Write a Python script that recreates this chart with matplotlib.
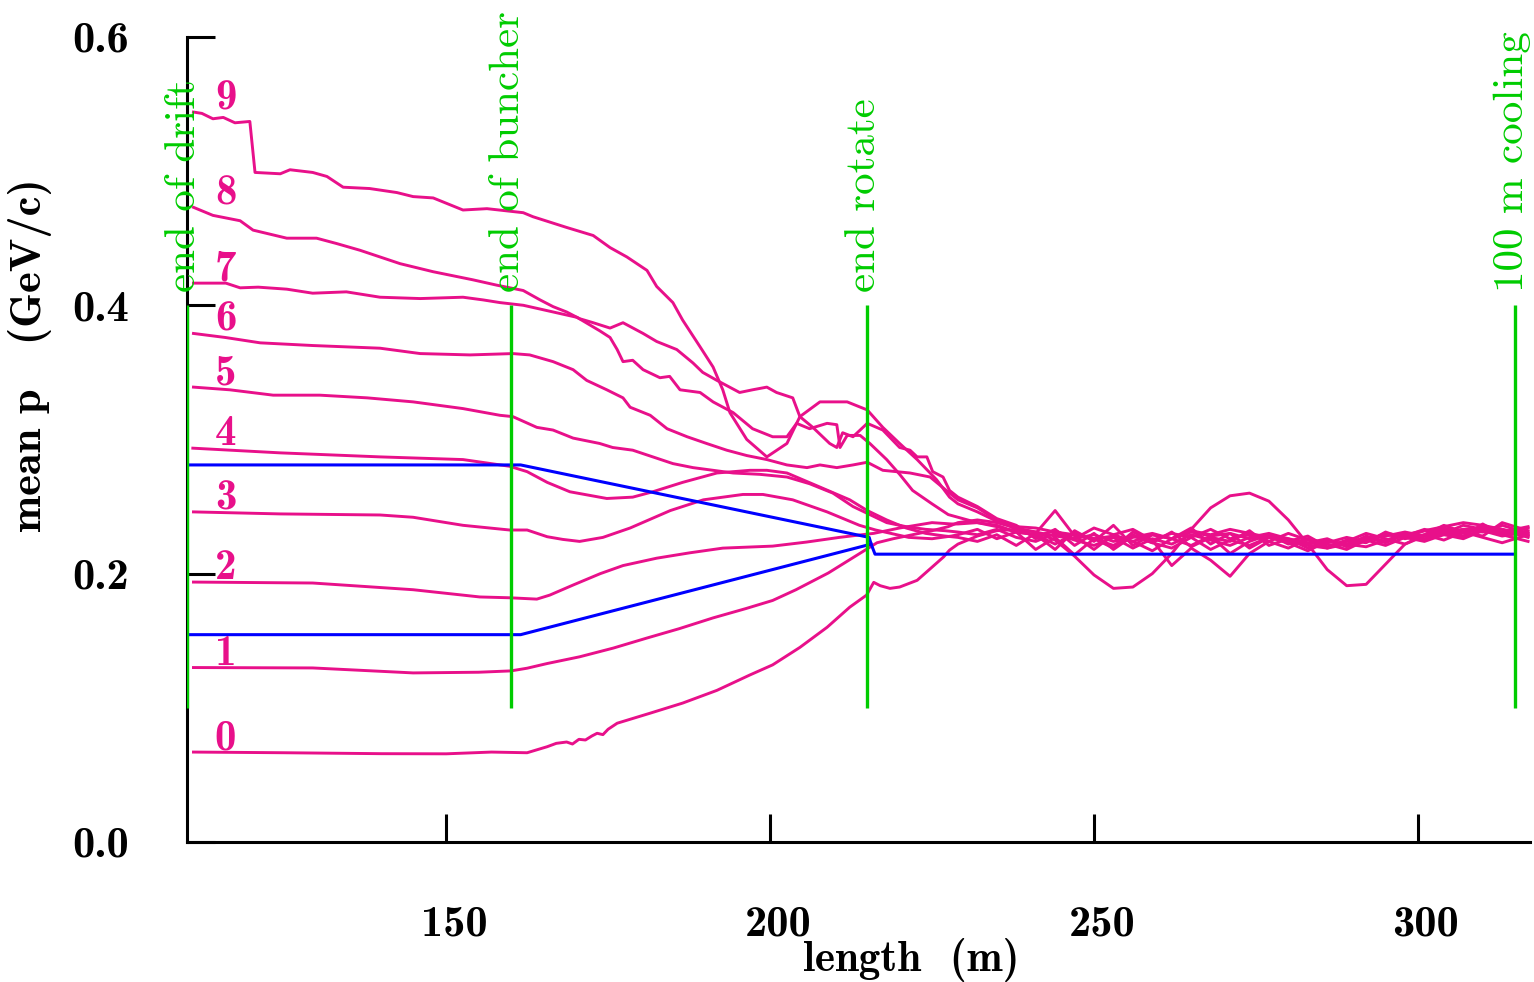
import matplotlib
matplotlib.use("Agg")
import matplotlib.pyplot as plt
import matplotlib.transforms as mtransforms

PINK = '#e8108a'
GREEN = '#00cc00'
BLUE = '#0000ff'

# mean momentum along the channel, one track per reference band (0..9)
len0 = [111, 125, 140, 150, 157, 162.5, 165.6, 167, 168.6, 169.5, 170.5, 171.5, 172.5, 173.3, 174.2, 175, 176.4,
        181.5, 186.5, 191.8, 196.9, 200.4, 204.6, 208.8, 212.3, 214.9, 216, 217, 218.5, 220, 222.7, 226.8, 227.7]
p0 = [0.067, 0.0665, 0.0658, 0.0657, 0.067, 0.0665, 0.071, 0.0735, 0.0745, 0.073, 0.0765, 0.076, 0.079, 0.081, 0.080,
      0.084, 0.0885, 0.096, 0.1035, 0.113, 0.1245, 0.132, 0.145, 0.160, 0.175, 0.184, 0.1935, 0.191, 0.189, 0.190,
      0.195, 0.2125, 0.2175]

len1 = [111, 129.4, 144.9, 155, 160, 162.5, 165.6, 170.6, 175.8, 181, 186, 191.2, 196.3, 200.4, 204, 209, 214,
        216.5, 219, 222, 225, 227.5]
p1 = [0.130, 0.1297, 0.126, 0.1265, 0.1275, 0.1295, 0.133, 0.138, 0.1445, 0.152, 0.159, 0.167, 0.174, 0.180, 0.188,
      0.2005, 0.2155, 0.223, 0.226, 0.229, 0.232, 0.235]

len2 = [111, 129.4, 144.9, 155.2, 159.8, 164, 166, 169.6, 173.8, 177.3, 182.5, 187.6, 192.7, 200.4, 205.6, 210.7,
        213.3, 216, 220, 225, 228]
p2 = [0.1937, 0.193, 0.188, 0.1826, 0.182, 0.181, 0.184, 0.1915, 0.200, 0.206, 0.2115, 0.2155, 0.219, 0.2205,
      0.2235, 0.227, 0.2285, 0.230, 0.234, 0.238, 0.237]

len3 = [111, 124.4, 139.8, 144.9, 152.6, 159.8, 162.5, 165.6, 168, 170.6, 174.2, 178.4, 184.6, 189.7, 195.8, 198.9,
        203.5, 208.8, 213.8, 216.3, 221.4, 225, 228]
p3 = [0.246, 0.2445, 0.2437, 0.242, 0.236, 0.2325, 0.2325, 0.2275, 0.2255, 0.224, 0.227, 0.234, 0.247, 0.255, 0.259,
      0.259, 0.255, 0.246, 0.236, 0.2325, 0.227, 0.226, 0.228]

len4 = [110.9, 124.4, 139.8, 152.6, 159.8, 162.5, 165.6, 169.1, 174.8, 178.8, 181.9, 186.5, 191.8, 196.9, 199.5,
        202.6, 207.7, 212.3, 215, 218, 221, 224, 227]
p4 = [0.2935, 0.290, 0.287, 0.285, 0.280, 0.276, 0.268, 0.261, 0.256, 0.257, 0.261, 0.268, 0.275, 0.277, 0.277,
      0.275, 0.2645, 0.255, 0.247, 0.240, 0.234, 0.230, 0.228]

len5 = [111, 116.6, 123.3, 130.5, 137.8, 144.9, 152.6, 158.3, 160.3, 164, 166.5, 169.6, 173.7, 175.7, 178.8, 181.9,
        185, 188.1, 191.2, 194.3, 198.4, 202.6, 206.1, 209.7, 212.8, 215.4, 218, 221, 224, 227]
p5 = [0.339, 0.337, 0.333, 0.333, 0.331, 0.328, 0.323, 0.318, 0.317, 0.309, 0.307, 0.301, 0.297, 0.294, 0.292,
      0.287, 0.282, 0.279, 0.277, 0.275, 0.274, 0.272, 0.267, 0.260, 0.250, 0.244, 0.238, 0.235, 0.233, 0.232]

len6 = [111, 115.9, 121.3, 129.4, 139.8, 146, 153.7, 160.3, 162.9, 166.5, 169.6, 171.7, 174.8, 177.3, 178.4, 181.5,
        184.1, 187.2, 190.2, 193.3, 196.4, 199.5, 202.6, 205.7, 207.7, 210.3, 212.8, 215, 217.4, 221.6, 224.7, 227.7]
p6 = [0.379, 0.376, 0.372, 0.370, 0.368, 0.364, 0.363, 0.364, 0.363, 0.358, 0.352, 0.344, 0.337, 0.331, 0.324,
      0.318, 0.308, 0.302, 0.297, 0.292, 0.288, 0.285, 0.281, 0.279, 0.281, 0.279, 0.281, 0.283, 0.277, 0.275,
      0.272, 0.260]

len7 = [111, 116, 118.2, 121, 125.4, 129.4, 134.6, 139.8, 146, 152.6, 155.7, 158.3, 161.9, 165.6, 170.2, 173.7,
        175.3, 176.4, 177.3, 178.8, 180.4, 183, 184.5, 186.1, 189.2, 191.2, 194.3, 197.3, 200.4, 202.6, 204.1,
        206.1, 208.8, 210.3, 210.8, 211.9, 213.9, 215.4, 218, 220, 222, 225, 227.5]
p7 = [0.4165, 0.4165, 0.413, 0.4135, 0.412, 0.409, 0.410, 0.406, 0.405, 0.406, 0.404, 0.402, 0.400, 0.396, 0.391,
      0.381, 0.376, 0.367, 0.358, 0.359, 0.352, 0.346, 0.347, 0.337, 0.335, 0.328, 0.320, 0.308, 0.302, 0.302,
      0.312, 0.308, 0.312, 0.311, 0.294, 0.303, 0.303, 0.297, 0.285, 0.274, 0.262, 0.252, 0.244]

len8 = [111, 114, 118.2, 120.2, 125.4, 130, 133.1, 136.7, 139.8, 142.9, 148, 154.1, 157.8, 161.9, 164.5, 166.5,
        168.6, 170.6, 172.7, 175.3, 177.3, 180.4, 182.5, 185.6, 188.1, 189.6, 191.8, 195.3, 197.3, 199.5, 201,
        203.5, 204.6, 206.6, 209.2, 210.3, 211.2, 212.8, 215, 217.4, 220, 221.6, 222.7, 224.2, 225.1, 226.7, 227.7]
p8 = [0.473, 0.467, 0.463, 0.456, 0.450, 0.450, 0.446, 0.441, 0.436, 0.431, 0.425, 0.419, 0.415, 0.411, 0.404,
      0.399, 0.395, 0.390, 0.387, 0.383, 0.387, 0.379, 0.373, 0.367, 0.357, 0.350, 0.344, 0.335, 0.337, 0.339,
      0.335, 0.331, 0.317, 0.309, 0.297, 0.294, 0.305, 0.302, 0.312, 0.307, 0.294, 0.292, 0.287, 0.287, 0.276,
      0.272, 0.262]

len9 = [111, 112.3, 114, 115.6, 117.4, 119.7, 120.5, 124.4, 125.9, 129.4, 131.6, 134.1, 138.2, 142.4, 144.9, 148,
        152.6, 156.3, 161.9, 163.4, 168.6, 172.7, 175.3, 177.9, 181, 182.5, 185, 186.5, 189.2, 191.2, 192.7, 193.8,
        196.4, 199.5, 202.6, 204.6, 207.7, 211.9, 215, 217.4, 220, 222.7, 225.7, 227.7]
p9 = [0.544, 0.543, 0.539, 0.540, 0.536, 0.537, 0.499, 0.498, 0.501, 0.499, 0.496, 0.488, 0.487, 0.484, 0.481,
      0.480, 0.471, 0.472, 0.469, 0.466, 0.458, 0.452, 0.443, 0.436, 0.426, 0.414, 0.402, 0.389, 0.369, 0.354,
      0.337, 0.320, 0.300, 0.287, 0.297, 0.317, 0.328, 0.328, 0.322, 0.309, 0.297, 0.285, 0.270, 0.257]

# cooling section, all tracks sampled on the same grid
tail_len = [229, 232, 235, 238, 241, 244, 247, 250, 253, 256, 259, 262, 265, 268, 271, 274, 277, 280, 283, 286,
            289, 292, 295, 298, 301, 304, 307, 310, 313, 317]
tail0 = [0.222, 0.228, 0.232, 0.233, 0.231, 0.225, 0.213, 0.199, 0.189, 0.190, 0.200, 0.215, 0.233, 0.249, 0.258,
         0.260, 0.254, 0.240, 0.222, 0.203, 0.191, 0.192, 0.207, 0.222, 0.228, 0.231, 0.233, 0.234, 0.231, 0.228]
tail1 = [0.238, 0.240, 0.238, 0.234, 0.231, 0.228, 0.226, 0.229, 0.224, 0.227, 0.230, 0.226, 0.232, 0.229, 0.233,
         0.230, 0.227, 0.224, 0.221, 0.219, 0.222, 0.220, 0.225, 0.229, 0.232, 0.235, 0.238, 0.236, 0.233, 0.229]
tail2 = [0.237, 0.238, 0.235, 0.231, 0.229, 0.222, 0.230, 0.226, 0.219, 0.231, 0.225, 0.206, 0.219, 0.210, 0.198,
         0.215, 0.224, 0.219, 0.226, 0.222, 0.218, 0.225, 0.221, 0.227, 0.224, 0.229, 0.226, 0.232, 0.228, 0.231]
tail3 = [0.229, 0.233, 0.226, 0.231, 0.218, 0.227, 0.214, 0.226, 0.221, 0.229, 0.223, 0.219, 0.227, 0.218, 0.225,
         0.221, 0.227, 0.223, 0.217, 0.224, 0.222, 0.227, 0.223, 0.229, 0.225, 0.231, 0.227, 0.233, 0.229, 0.224]
tail4 = [0.227, 0.224, 0.229, 0.221, 0.230, 0.247, 0.228, 0.218, 0.229, 0.224, 0.217, 0.226, 0.221, 0.228, 0.215,
         0.224, 0.229, 0.222, 0.226, 0.219, 0.224, 0.230, 0.226, 0.222, 0.229, 0.225, 0.231, 0.227, 0.223, 0.229]
tail5 = [0.231, 0.229, 0.233, 0.227, 0.224, 0.230, 0.225, 0.221, 0.227, 0.219, 0.226, 0.222, 0.229, 0.225, 0.221,
         0.227, 0.230, 0.226, 0.223, 0.226, 0.220, 0.226, 0.228, 0.231, 0.228, 0.234, 0.230, 0.235, 0.233, 0.227]
tail6 = [0.255, 0.249, 0.240, 0.233, 0.228, 0.232, 0.226, 0.234, 0.229, 0.233, 0.225, 0.230, 0.227, 0.233, 0.226,
         0.229, 0.224, 0.230, 0.225, 0.223, 0.227, 0.224, 0.230, 0.228, 0.233, 0.230, 0.236, 0.233, 0.231, 0.235]
tail7 = [0.242, 0.238, 0.236, 0.231, 0.229, 0.218, 0.232, 0.224, 0.236, 0.221, 0.229, 0.226, 0.234, 0.222, 0.230,
         0.219, 0.227, 0.224, 0.228, 0.220, 0.225, 0.223, 0.231, 0.226, 0.229, 0.236, 0.231, 0.228, 0.238, 0.232]
tail8 = [0.257, 0.250, 0.241, 0.236, 0.226, 0.233, 0.221, 0.230, 0.218, 0.228, 0.223, 0.231, 0.220, 0.227, 0.224,
         0.232, 0.221, 0.226, 0.219, 0.225, 0.221, 0.228, 0.224, 0.230, 0.226, 0.233, 0.228, 0.237, 0.229, 0.234]
tail9 = [0.252, 0.246, 0.239, 0.235, 0.234, 0.231, 0.229, 0.226, 0.228, 0.224, 0.229, 0.226, 0.231, 0.228, 0.230,
         0.226, 0.229, 0.225, 0.222, 0.224, 0.222, 0.226, 0.229, 0.227, 0.232, 0.229, 0.233, 0.231, 0.236, 0.230]

# reference momenta
ref_hi_len = [110, 161.5, 215.3, 215.6, 216.2, 315]
ref_hi_p = [0.281, 0.281, 0.227, 0.222, 0.2145, 0.2145]
ref_lo_len = [110, 161.5, 215.6]
ref_lo_p = [0.1545, 0.1545, 0.222]

# section boundaries
marker_len = [110, 160, 215, 315]
marker_names = ['end of drift', 'end of buncher', 'end rotate', '100 m cooling']

band_labels = ['0', '1', '2', '3', '4', '5', '6', '7', '8', '9']

tracks = [(len0, p0, tail0), (len1, p1, tail1), (len2, p2, tail2), (len3, p3, tail3), (len4, p4, tail4),
          (len5, p5, tail5), (len6, p6, tail6), (len7, p7, tail7), (len8, p8, tail8), (len9, p9, tail9)]

plt.rcParams['font.family'] = 'cmb10'
plt.rcParams['axes.unicode_minus'] = False

fig = plt.figure(figsize=(15.34, 9.82), dpi=100)
ax = fig.add_axes([0.1219, 0.1426, 0.8755, 0.8198])

for (xs, ps, tail), lab in zip(tracks, band_labels):
    ax.plot(xs + tail_len, ps + tail, color=PINK, lw=2.1, zorder=2)
    ax.text(114.3, ps[0] + 0.002, lab, color=PINK, fontsize=31, ha='left', va='baseline', zorder=4)

ax.plot(ref_hi_len, ref_hi_p, color=BLUE, lw=2.2, zorder=3)
ax.plot(ref_lo_len, ref_lo_p, color=BLUE, lw=2.2, zorder=3)

for xm, name in zip(marker_len, marker_names):
    ax.plot([xm, xm], [0.1, 0.4], color=GREEN, lw=2.4, zorder=5, solid_capstyle='butt')
    ax.text(xm - 0.4, 0.41, name, color=GREEN, fontsize=31, family='cmr10',
            rotation=90, ha='center', va='bottom', zorder=5)

ax.set_xlim(110, 317.3)
ax.set_ylim(0, 0.6)

for side in ('top', 'right'):
    ax.spines[side].set_visible(False)
for side in ('left', 'bottom'):
    ax.spines[side].set_linewidth(2.2)
    ax.spines[side].set_zorder(1)

ax.set_xticks([150, 200, 250, 300])
ax.set_xticklabels(['150', '200', '250', '300'])
ax.set_yticks([0.0, 0.2, 0.4, 0.6])
ax.set_yticklabels(['0.0', '0.2', '0.4', '0.6'])
ax.tick_params(axis='x', direction='in', length=20, width=2.2, pad=46, labelsize=32)
ax.tick_params(axis='y', direction='in', length=20, width=2.2, pad=42, labelsize=32)

# x tick labels sit a little to the right of their ticks
shift = mtransforms.ScaledTranslation(0.08, 0, fig.dpi_scale_trans)
for lbl in ax.get_xticklabels():
    lbl.set_transform(lbl.get_transform() + shift)

ax.set_xlabel('length  (m)', fontsize=31)
ax.set_ylabel('mean p   (GeV/c)', fontsize=32)
ax.xaxis.set_label_coords(0.539, -0.119)
ax.yaxis.set_label_coords(-0.1005, 0.605)

fig.savefig('out.png', dpi=100, facecolor='white')
